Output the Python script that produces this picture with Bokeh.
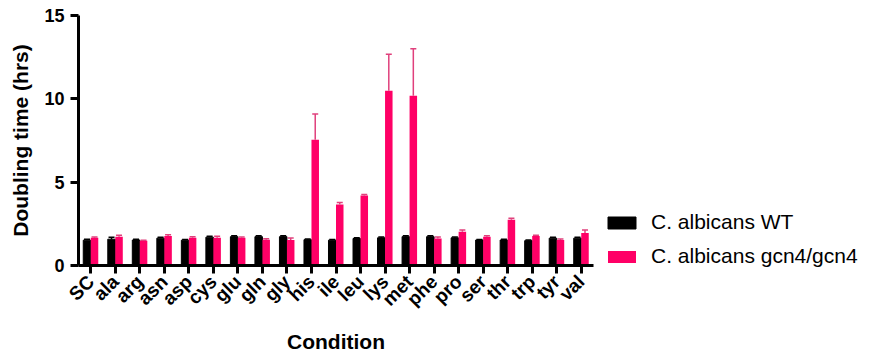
from math import pi

from bokeh.core.properties import value
from bokeh.embed import file_html
from bokeh.models import (ColumnDataSource, FactorRange, FixedTicker, Legend,
                          LegendItem, Range1d, TeeHead, Whisker)
from bokeh.plotting import figure
from bokeh.resources import INLINE
from bokeh.transform import dodge

# Doubling time per amino-acid condition (mean and SD, hours)
conditions = ["SC", "ala", "arg", "asn", "asp", "cys", "glu", "gln", "gly", "his",
              "ile", "leu", "lys", "met", "phe", "pro", "ser", "thr", "trp", "tyr", "val"]
wt_mean = [1.52, 1.58, 1.53, 1.64, 1.52, 1.70, 1.73, 1.73, 1.73, 1.55,
           1.52, 1.62, 1.66, 1.73, 1.73, 1.66, 1.53, 1.53, 1.49, 1.64, 1.64]
wt_sd = [0.06, 0.12, 0.05, 0.06, 0.04, 0.05, 0.06, 0.06, 0.05, 0.04,
         0.04, 0.05, 0.05, 0.05, 0.05, 0.05, 0.03, 0.05, 0.04, 0.06, 0.06]
gcn4_mean = [1.67, 1.73, 1.49, 1.77, 1.67, 1.66, 1.66, 1.55, 1.53, 7.55,
             3.66, 4.20, 10.49, 10.19, 1.62, 2.03, 1.73, 2.74, 1.77, 1.53, 1.95]
gcn4_sd = [0.04, 0.08, 0.03, 0.08, 0.05, 0.10, 0.05, 0.06, 0.12, 1.54,
           0.12, 0.06, 2.19, 2.81, 0.09, 0.10, 0.06, 0.10, 0.05, 0.06, 0.18]
y_ticks = [0, 5, 10, 15]
series_names = ["C. albicans WT", "C. albicans gcn4/gcn4"]

WT_COLOR = "#000000"
GCN4_COLOR = "#FF0066"
GCN4_ERR_COLOR = "#E0407C"
FONT = "Liberation Sans"

src = ColumnDataSource(dict(
    cond=conditions,
    wt=wt_mean,
    wt_up=[m + s for m, s in zip(wt_mean, wt_sd)],
    gcn4=gcn4_mean,
    gcn4_up=[m + s for m, s in zip(gcn4_mean, gcn4_sd)],
))

p = figure(
    x_range=FactorRange(*conditions, range_padding=0),
    y_range=Range1d(0, 15),
    frame_width=515, frame_height=250,
    min_border_left=78, min_border_right=281,
    min_border_top=15, min_border_bottom=90,
    output_backend="svg", toolbar_location=None,
)

offset = 0.153
bar_w = 0.306

wt_bars = p.vbar(x=dodge("cond", -offset, range=p.x_range), top="wt", width=bar_w,
                 source=src, fill_color=WT_COLOR, line_color=WT_COLOR)
gcn4_bars = p.vbar(x=dodge("cond", offset, range=p.x_range), top="gcn4", width=bar_w,
                   source=src, fill_color=GCN4_COLOR, line_color=None)

# upper error bars (mean + SD)
for base_off, lo, hi, col in [(-offset, "wt", "wt_up", WT_COLOR),
                              (offset, "gcn4", "gcn4_up", GCN4_ERR_COLOR)]:
    w = Whisker(source=src, base=dodge("cond", base_off, range=p.x_range),
                lower=lo, upper=hi, dimension="height",
                line_color=col, line_width=1.5,
                upper_head=TeeHead(size=6, line_color=col, line_width=1.5),
                lower_head=None, level="overlay")
    p.add_layout(w)

# axes
for ax in (p.xaxis, p.yaxis):
    ax.axis_line_width = 3
    ax.axis_line_color = "black"
    ax.major_tick_line_width = 3
    ax.major_tick_out = 8
    ax.major_tick_in = 0
    ax.minor_tick_line_color = None
    ax.major_label_text_font = FONT
    ax.major_label_text_font_style = "bold"
    ax.major_label_text_color = "black"
    ax.axis_label_text_font = FONT
    ax.axis_label_text_font_style = "bold"
    ax.axis_label_text_color = "black"

p.yaxis.ticker = FixedTicker(ticks=y_ticks)
p.yaxis.major_label_text_font_size = "18px"
p.yaxis.major_label_standoff = 6
p.yaxis.axis_label = "Doubling time (hrs)"
p.yaxis.axis_label_text_font_size = "21px"
p.yaxis.axis_label_standoff = 9

p.xaxis.major_label_orientation = pi / 4
p.xaxis.major_label_text_font_size = "19px"
p.xaxis.major_label_standoff = 5
p.xaxis.axis_label = "Condition"
p.xaxis.axis_label_text_font_size = "21px"
p.xaxis.axis_label_standoff = 10

p.grid.visible = False
p.outline_line_color = None

legend = Legend(
    items=[LegendItem(label=value(series_names[0]), renderers=[wt_bars]),
           LegendItem(label=value(series_names[1]), renderers=[gcn4_bars])],
    location=(11, -3),
    glyph_width=35, glyph_height=15,
    label_text_font=FONT, label_text_font_size="21px", label_text_color="black",
    label_standoff=12, label_height=20,
    spacing=10, padding=0, margin=11,
    border_line_color=None, background_fill_alpha=0,
)
p.add_layout(legend, "right")

open("out.html", "w").write(file_html(p, INLINE))
